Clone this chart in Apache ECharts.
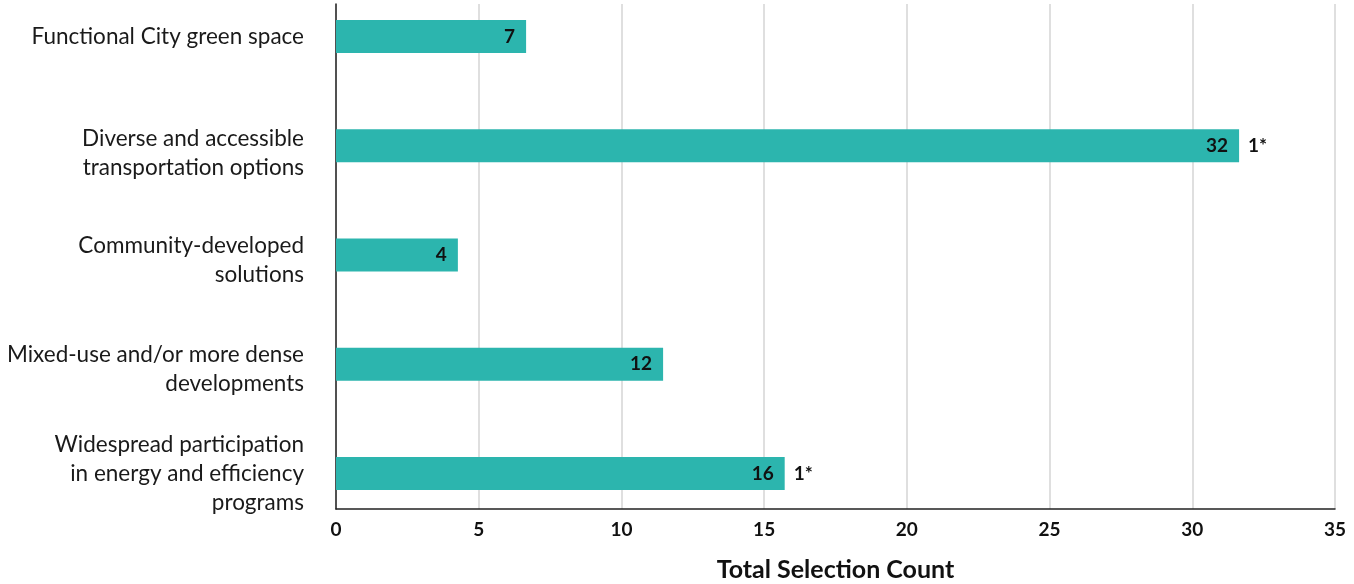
<!DOCTYPE html>
<html>
<head>
<meta charset="utf-8">
<script src="https://cdn.jsdelivr.net/npm/echarts@6/dist/echarts.min.js"></script>
<style>
html,body{margin:0;padding:0;background:#fff;}
#chart{width:1354px;height:584px;}
</style>
</head>
<body>
<div id="chart"></div>
<script>
const categories = [
  'Functional City green space',
  'Diverse and accessible\ntransportation options',
  'Community-developed\nsolutions',
  'Mixed-use and/or more dense\ndevelopments',
  'Widespread participation\nin energy and efficiency\nprograms'
];
const barValues = [6.66, 31.64, 4.27, 11.46, 15.72];
const valueLabels = ['7', '32', '4', '12', '16'];
const extraLabels = ['', '1*', '', '', '1*'];
const xTicks = { min: 0, max: 35, interval: 5 };
const axisName = 'Total Selection Count';

const FONT = 'Lato';
const LH = 29;
const labelShift = [0, 7.5, 5, 5, 0];

const rich = {};
labelShift.forEach((d, i) => {
  rich['s' + i] = { fontSize: 22.5, lineHeight: LH + 2 * d, fontFamily: FONT };
  rich['t' + i] = { fontSize: 22.5, lineHeight: LH, verticalAlign: 'bottom', color: '#1a1a1a', fontFamily: FONT };
});

const chart = echarts.init(document.getElementById('chart'));
chart.setOption({
  backgroundColor: '#fff',
  animation: false,
  textStyle: { fontFamily: FONT },
  grid: [
    { left: 336, right: 19, top: 4, bottom: 75, outerBoundsMode: 'none', containLabel: false },
    { left: 336, right: 19, top: 36.5, bottom: 110.5, outerBoundsMode: 'none', containLabel: false },
    { left: 336, right: 19, top: 33.5, bottom: 113.5, outerBoundsMode: 'none', containLabel: false }
  ],
  xAxis: [
    {
      gridIndex: 0, type: 'value', min: xTicks.min, max: xTicks.max, interval: xTicks.interval,
      axisLine: { show: true, lineStyle: { color: '#222', width: 1.5 } },
      axisTick: { show: false },
      splitLine: { show: true, lineStyle: { color: '#d4d4d4', width: 1.5 } },
      axisLabel: { color: '#111', fontSize: 19, fontWeight: 'bold', fontFamily: FONT, margin: 11 },
      name: axisName, nameLocation: 'middle', nameGap: 48,
      nameTextStyle: { color: '#111', fontSize: 25, fontWeight: 'bold', fontFamily: FONT }
    },
    { gridIndex: 1, type: 'value', min: xTicks.min, max: xTicks.max, show: false },
    { gridIndex: 2, type: 'value', min: xTicks.min, max: xTicks.max, show: false }
  ],
  yAxis: [
    {
      gridIndex: 0, type: 'value', min: 0, max: 1,
      axisLine: { show: true, lineStyle: { color: '#222', width: 1.5 } },
      axisTick: { show: false }, axisLabel: { show: false }, splitLine: { show: false }
    },
    {
      gridIndex: 1, type: 'category', data: categories, inverse: true, boundaryGap: false,
      axisLine: { show: false }, axisTick: { show: false }, splitLine: { show: false },
      axisLabel: { show: false }
    },
    {
      gridIndex: 2, type: 'category', data: categories, inverse: true, boundaryGap: false,
      axisLine: { show: false }, axisTick: { show: false }, splitLine: { show: false },
      axisLabel: {
        color: '#1a1a1a', fontSize: 22.5, lineHeight: LH, fontFamily: FONT, margin: 32, align: 'right',
        formatter: (value, index) => {
          const lines = value.split('\n');
          return lines.map((l, k) => (k === 0 ? '{s' + index + '| }' : '') + '{t' + index + '|' + l + '}').join('\n');
        },
        rich: rich
      }
    }
  ],
  series: [
    {
      type: 'bar', xAxisIndex: 1, yAxisIndex: 1, data: barValues, barWidth: 33, clip: false,
      itemStyle: { color: '#2cb5ae' },
      label: {
        show: true, position: 'insideRight', distance: 11,
        formatter: p => valueLabels[p.dataIndex],
        color: '#111', fontSize: 19, fontWeight: 'bold', fontFamily: FONT
      },
      z: 3
    },
    {
      type: 'bar', xAxisIndex: 1, yAxisIndex: 1, data: barValues, barWidth: 33, barGap: '-100%', clip: false,
      itemStyle: { color: 'rgba(0,0,0,0)' }, silent: true,
      label: {
        show: true, position: 'right', distance: 9,
        formatter: p => extraLabels[p.dataIndex],
        color: '#111', fontSize: 19, fontWeight: 'bold', fontFamily: FONT
      },
      z: 2
    }
  ]
});
</script>
</body>
</html>
